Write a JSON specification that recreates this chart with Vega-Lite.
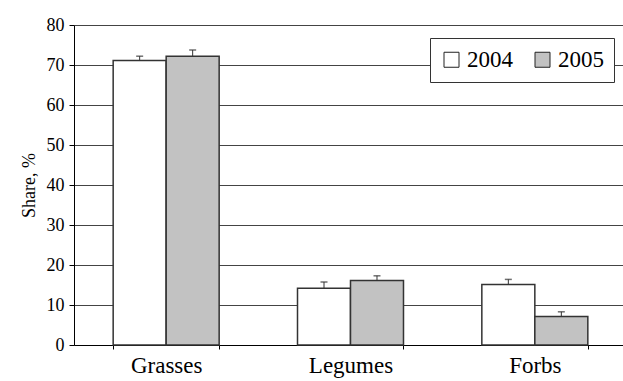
{
  "$schema": "https://vega.github.io/schema/vega-lite/v6.json",
  "width": 553,
  "height": 320,
  "autosize": {"type": "none"},
  "padding": {"left": 74, "top": 25, "right": 0, "bottom": 36},
  "background": "white",
  "data": {
    "values": [
      {"group": "Grasses", "year": "2004", "value": 71.1, "upper": 72.2},
      {"group": "Grasses", "year": "2005", "value": 72.2, "upper": 73.75},
      {"group": "Legumes", "year": "2004", "value": 14.2, "upper": 15.75},
      {"group": "Legumes", "year": "2005", "value": 16.1, "upper": 17.3},
      {"group": "Forbs", "year": "2004", "value": 15.1, "upper": 16.4},
      {"group": "Forbs", "year": "2005", "value": 7.1, "upper": 8.3}
    ]
  },
  "config": {
    "font": "Liberation Serif",
    "view": {"stroke": null}
  },
  "encoding": {
    "x": {
      "field": "group",
      "type": "nominal",
      "sort": ["Grasses", "Legumes", "Forbs"],
      "scale": {"paddingInner": 0.425, "paddingOuter": 0.2125},
      "axis": {"title": null, "labelAngle": 0, "labelFont": "Liberation Serif", "labelFontSize": 23, "labelColor": "black", "domainColor": "black", "tickColor": "black", "tickBand": "extent", "tickSize": 4, "labelPadding": 5, "grid": false}
    },
    "xOffset": {"field": "year", "type": "nominal", "scale": {"paddingInner": 0, "paddingOuter": 0}},
    "y": {
      "field": "value",
      "type": "quantitative",
      "scale": {"domain": [0, 80], "nice": false},
      "axis": {"title": "Share, %", "titleFont": "Liberation Serif", "titleFontSize": 18, "titleFontWeight": "normal", "titleColor": "black", "titlePadding": 8, "labelFont": "Liberation Serif", "labelFontSize": 18, "labelColor": "black", "values": [0, 10, 20, 30, 40, 50, 60, 70, 80], "tickSize": 5, "labelPadding": 5, "domainColor": "black", "tickColor": "black", "grid": true, "gridColor": "#444444", "gridWidth": 1, "gridOpacity": 1}
    }
  },
  "layer": [
    {
      "mark": {"type": "bar", "stroke": "#333333", "strokeWidth": 1.5},
      "encoding": {
        "fill": {
          "field": "year",
          "type": "nominal",
          "scale": {"domain": ["2004", "2005"], "range": ["#ffffff", "#c2c2c2"]},
          "legend": {"title": null, "orient": "top-right", "offset": 13, "direction": "horizontal", "padding": 10, "strokeColor": "#333333", "fillColor": "white", "labelFont": "Liberation Serif", "labelFontSize": 23, "labelColor": "black", "symbolType": "square", "symbolSize": 225, "symbolStrokeWidth": 1, "symbolStrokeColor": "#222222", "columnPadding": 18, "labelOffset": 4}
        }
      }
    },
    {
      "mark": {"type": "rule", "color": "#333333", "strokeWidth": 1},
      "encoding": {
        "y2": {"field": "upper"}
      }
    },
    {
      "mark": {"type": "tick", "color": "#333333", "thickness": 1.5, "size": 7},
      "encoding": {
        "y": {
          "field": "upper",
          "type": "quantitative",
          "axis": {"title": "Share, %", "titleFont": "Liberation Serif", "titleFontSize": 18, "titleFontWeight": "normal", "titleColor": "black", "titlePadding": 8, "labelFont": "Liberation Serif", "labelFontSize": 18, "labelColor": "black", "values": [0, 10, 20, 30, 40, 50, 60, 70, 80], "tickSize": 5, "labelPadding": 5, "domainColor": "black", "tickColor": "black", "grid": true, "gridColor": "#444444", "gridWidth": 1, "gridOpacity": 1}
        }
      }
    }
  ]
}
